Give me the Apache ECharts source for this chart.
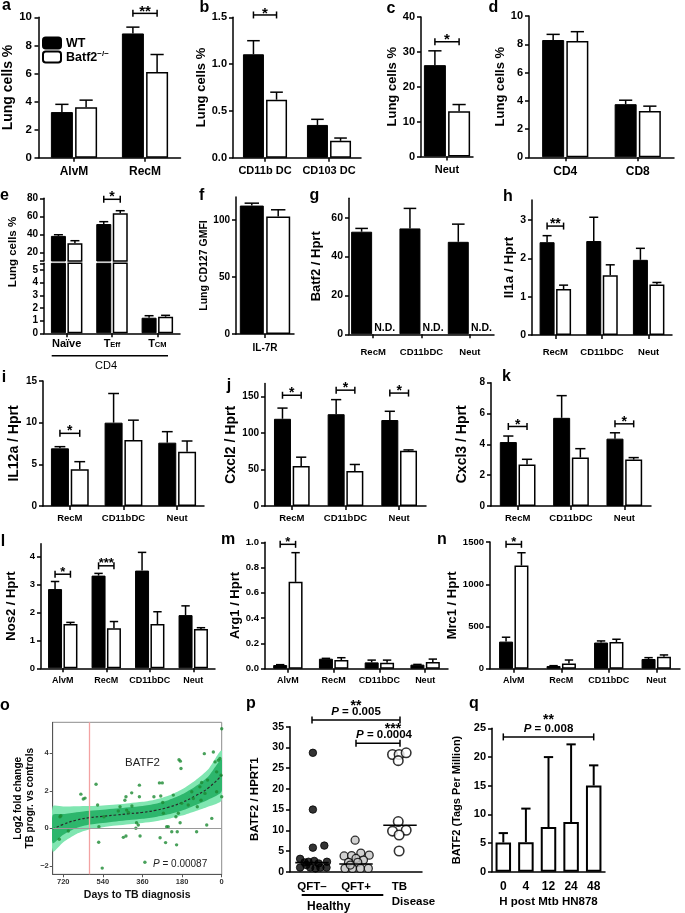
<!DOCTYPE html>
<html><head><meta charset="utf-8"><title>BATF2 figure</title>
<script src="https://cdn.jsdelivr.net/npm/echarts@6.0.0/dist/echarts.min.js"></script>
<style>html,body{margin:0;padding:0;background:#fff;}#chart{width:685px;height:913px;}</style>
</head><body><div id="chart"></div>
<script>
// ================= DATA =================
// a
const aCats=['AlvM','RecM'], aWT=[3.25,8.85], aWTsem=[0.55,0.45], aKO=[3.6,6.1], aKOsem=[0.5,1.25];
const aTicks=[0,2,4,6,8,10], aSigCat=[1], aSigY=[10.28], aSigTxt=['**'];
// b
const bCats=['CD11b DC','CD103 DC'], bWT=[1.105,0.35], bWTsem=[0.145,0.06], bKO=[0.62,0.18], bKOsem=[0.08,0.03];
const bTicks=[0,0.5,1,1.5], bSigCat=[0], bSigY=[1.525], bSigTxt=['*'];
// c
const cCats=['Neut'], cWT=[26.2], cWTsem=[4.1], cKO=[13], cKOsem=[1.9];
const cTicks=[0,10,20,30,40], cSigCat=[0], cSigY=[32.9], cSigTxt=['*'];
// d
const dCats=['CD4','CD8'], dWT=[8.3,3.76], dWTsem=[0.4,0.28], dKO=[8.23,3.28], dKOsem=[0.66,0.34];
const dTicks=[0,2,4,6,8,10];
// e
const eCats=['Naïve','TEff','TCM'], eCatRich=['{b|Naïve}','{b|T}{s|Eff}','{b|T}{s|CM}'];
const eWT=[38.5,51.6,1.23], eWTsem=[1.3,2.6,0.16], eKO=[30.4,63.4,1.31], eKOsem=[2.8,2.9,0.11];
const eTicksUp=[20,40,60,80], eTicksLo=[0,1,2,3,4,5], eSigCat=[1], eSigY=[78.9], eSigTxt=['*'];
const eBreakLo=10.8, eBreakHi=5.53;
// f
const fCats=['IL-7R'], fWT=[112.5], fWTsem=[2.1], fKO=[102.9], fKOsem=[5.9], fTicks=[0,50,100];
// g
const gCats=['RecM','CD11bDC','Neut'], gWT=[52.8,54.5,47.6], gWTsem=[1.7,10.3,9.1], gKO=[null,null,null];
const gKOLabel=['N.D.','N.D.','N.D.'], gTicks=[0,20,40,60];
// h
const hCats=['RecM','CD11bDC','Neut'], hWT=[2.42,2.45,1.96], hWTsem=[0.17,0.62,0.3], hKO=[1.2,1.56,1.32], hKOsem=[0.1,0.27,0.05];
const hTicks=[0,1,2,3], hSigCat=[0], hSigY=[2.84], hSigTxt=['**'];
// i
const iCats=['RecM','CD11bDC','Neut'], iWT=[6.92,10.0,7.6], iWTsem=[0.2,3.5,1.32], iKO=[4.4,7.92,6.52], iKOsem=[0.92,2.38,1.28];
const iTicks=[0,5,10,15], iSigCat=[0], iSigY=[8.72], iSigTxt=['*'];
// j
const jCats=['RecM','CD11bDC','Neut'], jWT=[119.7,126,118], jWTsem=[14.7,20,12], jKO=[55,48,75.7], jKOsem=[12,9,1.3];
const jTicks=[0,50,100,150], jSigCat=[0,1,2], jSigY=[152,159,155], jSigTxt=['*','*','*'];
// k
const kCats=['RecM','CD11bDC','Neut'], kWT=[4.15,5.72,4.37], kWTsem=[0.39,1.44,0.38], kKO=[2.69,3.14,3.01], kKOsem=[0.34,0.58,0.13];
const kTicks=[0,2,4,6,8], kSigCat=[0,2], kSigY=[5.16,5.33], kSigTxt=['*','*'];
// l
const lCats=['AlvM','RecM','CD11bDC','Neut'], lWT=[2.83,3.31,3.49,1.9], lWTsem=[0.27,0.08,0.65,0.33], lKO=[1.58,1.43,1.58,1.4], lKOsem=[0.06,0.24,0.44,0.05];
const lTicks=[0,1,2,3,4], lSigCat=[0,1], lSigY=[3.36,3.66], lSigTxt=['*','***'];
// m
const mCats=['AlvM','RecM','CD11bDC','Neut'], mWT=[0.029,0.079,0.05,0.032], mWTsem=[0.003,0.003,0.018,0.002], mKO=[0.687,0.068,0.047,0.053], mKOsem=[0.231,0.019,0.021,0.023];
const mTicks=[0,0.2,0.4,0.6,0.8,1.0], mSigCat=[0], mSigY=[0.984], mSigTxt=['*'];
// n
const nCats=['AlvM','RecM','CD11bDC','Neut'], nWT=[321,32,310,115], nWTsem=[52,4,19,16], nKO=[1222,63,317,143], nKOsem=[152,40,32,20];
const nTicks=[0,500,1000,1500], nSigCat=[0], nSigY=[1474], nSigTxt=['*'];
// o
const oXTicks=[0,180,360,540,720], oYTicks=[-2,0,2,4], oRedLineDay=602;
const oBandDays=[768,720,660,600,540,480,420,360,300,240,180,120,60,0];
const oMean   =[-0.04,0.21,0.44,0.57,0.64,0.71,0.78,0.85,0.96,1.13,1.38,1.73,2.16,2.83];
const oInnerLo=[-0.79,-0.34,0.02,0.20,0.29,0.37,0.44,0.51,0.61,0.75,0.95,1.23,1.54,1.98];
const oInnerHi=[0.71,0.76,0.86,0.94,0.99,1.05,1.12,1.19,1.31,1.51,1.81,2.23,2.78,3.68];
const oOuterLo=[-1.24,-0.74,-0.30,-0.05,0.06,0.15,0.22,0.29,0.38,0.51,0.68,0.91,1.16,1.51];
const oOuterHi=[1.16,1.16,1.18,1.19,1.22,1.27,1.34,1.41,1.54,1.75,2.08,2.55,3.16,4.15];
const oPtDay=[735,731,738,697,640,629,621,571,564,559,558,543,535,470,462,447,435,440,435,432,424,409,408,390,387,379,374,374,371,349,308,283,277,268,280,270,265,255,250,243,227,220,208,205,202,197,194,188,185,182,189,152,136,129,114,111,99,94,91,79,76,68,64,45,38,30,23,15,8,3,0,0,23];
const oPtVal=[0.62,0.67,-0.58,-0.14,1.82,1.56,1.61,2.35,1.24,-0.74,0.09,-2.12,0.62,0.92,1.15,-0.48,-0.41,1.5,1.68,0.97,0.85,1.89,1.19,0,0.3,0.18,2.3,1.68,-0.41,-1.81,1.68,2.42,1.72,1.38,-0.5,2.42,0.8,-0.76,0.09,0.09,-0.18,1.77,0.62,-0.88,-0.18,0.8,3.66,3.58,3.19,1.33,0.3,1.24,1.95,1.59,-0.18,1.15,2.21,1.5,2.44,3.98,1.86,0.18,2.57,0.53,4.07,3.54,1.95,3.63,3.72,2.83,5.31,1.68,3.01];
// p
const pCats=['QFT–','QFT+','TB\nDisease'], pTicks=[0,5,10,15,20,25,30,35];
const pNegOff=[0.02,0.02,0.02,0.28,-0.27,-0.27,-0.13,-0.04,0.08,0.19,0.33,-0.08,0.05,0.15,0.34,-0.17];
const pNegVal=[28.7,15.0,5.8,6.3,3.1,1.0,1.6,1.0,0.8,1.0,1.0,2.4,2.6,2.0,2.4,2.25];
const pPosOff=[-0.02,-0.27,-0.10,0.11,0.30,0,0.17,-0.17,0.04,-0.25,-0.08,0.10,0.28,-0.13];
const pPosVal=[7.6,3.8,3.9,4.5,4.0,3.2,2.8,2.25,2.25,0.8,0.8,0.8,0.8,1.6];
const pTBOff=[-0.17,-0.02,0.14,-0.04,-0.04,-0.17,0.14,-0.02,-0.02];
const pTBVal=[28.3,28.3,28.7,26.8,12.1,9.8,10.0,8.85,5.0];
const pMedian=[2.2,1.85,11.2];
const pSigFrom=[0,1], pSigTo=[2,2], pSigY=[36.6,31.0], pSigP=['0.005','0.0004'], pSigTxt=['**','***'];
// q
const qCats=['0','4','12','24','48'], qMean=[5.09,5.15,7.78,8.65,15.03], qSem=[1.64,5.85,12.2,13.55,3.51];
const qTicks=[0,5,10,15,20,25], qSigFrom=[0], qSigTo=[4], qSigY=[23.5], qSigP=['0.008'], qSigTxt=['**'];

// ================= BUILDERS =================
const FONT="'Liberation Sans', Arial, Helvetica, sans-serif";
const grids=[], xAxes=[], yAxes=[], series=[], graphics=[];

function addGrid(r){ grids.push(Object.assign({containLabel:false}, r)); return grids.length-1; }
function addCatX(gi, cats, o){
  o=o||{};
  xAxes.push({type:'category', gridIndex:gi, data:cats, show:o.show!==false, position:'bottom',
    axisLine:{show:true,onZero:false,lineStyle:{color:'#000',width:1.5}},
    axisTick:{show:o.tick!==false,alignWithLabel:true,length:4,lineStyle:{color:'#000',width:1.5}},
    axisLabel:{show:true,interval:0,margin:o.margin!=null?o.margin:7,fontSize:o.fs||11,fontFamily:FONT,fontWeight:'bold',color:'#000',formatter:o.fmt,rich:o.rich,lineHeight:o.lh},
    splitLine:{show:false},
    name:o.name, nameLocation:'middle', nameGap:o.gap,
    nameTextStyle:{fontFamily:FONT,fontWeight:'bold',fontSize:o.nfs||11,color:'#000'}});
  return xAxes.length-1;
}
function addValY(gi, min, max, ticks, o){
  o=o||{};
  const lc=o.lc||'#000', lw=o.lw||1.5;
  yAxes.push({type:'value', gridIndex:gi, min:min, max:max,
    axisLine:{show:true,onZero:false,lineStyle:{color:lc,width:lw}},
    axisTick:{show:true,length:o.tl||4,customValues:o.tickVals||ticks,lineStyle:{color:lc,width:lw}},
    axisLabel:{customValues:ticks,formatter:o.fmt||(v=>String(v)),margin:o.margin!=null?o.margin:6,fontSize:o.fs||10,fontFamily:FONT,fontWeight:'bold',color:o.tc||'#000'},
    splitLine:{show:false},
    name:o.name, nameLocation:'middle', nameGap:o.gap,
    nameTextStyle:{fontFamily:FONT,fontWeight:'bold',fontSize:o.nfs||13,color:'#000',lineHeight:o.nlh}});
  return yAxes.length-1;
}
const ST={stroke:'#000',lineWidth:1.5};
function errSeries(xi, yi, means, sems, off, bw, keep, lw){
  const data=[];
  means.forEach((m,i)=>{ if(m!=null && sems[i]!=null && (!keep || keep(m))) data.push([i, m, m+sems[i]]); });
  const st={stroke:'#000',lineWidth:lw||1.5};
  return {type:'custom', xAxisIndex:xi, yAxisIndex:yi, clip:false, silent:true, z:3,
    encode:{x:0,y:[1,2]}, data:data,
    renderItem:function(params, api){
      const c=api.value(0);
      const p0=api.coord([c, api.value(1)]), p1=api.coord([c, api.value(2)]);
      const x=p0[0]+off, cap=Math.max(3, bw*0.3);
      return {type:'group', children:[
        {type:'line', shape:{x1:x,y1:p0[1],x2:x,y2:p1[1]}, style:st},
        {type:'line', shape:{x1:x-cap,y1:p1[1],x2:x+cap,y2:p1[1]}, style:st}]};
    }};
}
function bracketSeries(xi, yi, brs, half, fs){
  return {type:'custom', xAxisIndex:xi, yAxisIndex:yi, clip:false, silent:true, z:5,
    encode:{x:0,y:1}, data:brs.map(b=>[b.c, b.y]),
    renderItem:function(params, api){
      const b=brs[params.dataIndex];
      const p=api.coord([api.value(0), api.value(1)]);
      const x1=p[0]-half, x2=p[0]+half, y=p[1], h=3.5;
      return {type:'group', children:[
        {type:'line', shape:{x1:x1,y1:y,x2:x2,y2:y}, style:ST},
        {type:'line', shape:{x1:x1,y1:y-h,x2:x1,y2:y+h}, style:ST},
        {type:'line', shape:{x1:x2,y1:y-h,x2:x2,y2:y+h}, style:ST},
        {type:'text', style:{text:b.t, x:p[0], y:y-5+0.235*fs, align:'center', textAlign:'center', verticalAlign:'middle', textVerticalAlign:'middle', fontSize:fs, fontWeight:'bold', fontFamily:FONT, fill:'#000'}}]};
    }};
}
function sig(cats, ys, ts){ return cats.map((c,i)=>({c:c, y:ys[i], t:ts[i]})); }
function barPanel(P){
  const gi=addGrid(P.grid);
  const xi=addCatX(gi, P.cats, P.x);
  const yi=addValY(gi, P.min, P.max, P.ticks, P.y);
  const bw=P.bw, gap=P.gap!=null?P.gap:10, half=bw*(1+gap/100)/2;
  series.push({type:'bar', name:'WT', xAxisIndex:xi, yAxisIndex:yi, data:P.wt, barWidth:bw, barGap:gap+'%', silent:true, itemStyle:{color:'#000',borderColor:'#000',borderWidth:1}});
  series.push({type:'bar', name:'Batf2', xAxisIndex:xi, yAxisIndex:yi, data:P.ko, barWidth:bw, barGap:gap+'%', silent:true, itemStyle:{color:'#fff',borderColor:'#000',borderWidth:1.5}});
  series.push(errSeries(xi, yi, P.wt, P.wtSem, -half, bw));
  if(P.koSem) series.push(errSeries(xi, yi, P.ko, P.koSem, half, bw));
  if(P.br) series.push(bracketSeries(xi, yi, P.br, half, P.sfs||14));
  return {gi:gi, xi:xi, yi:yi, half:half};
}
function spanBracket(xi, yi, from, to, ys, ptxt, stars, o){
  return {type:'custom', xAxisIndex:xi, yAxisIndex:yi, clip:false, silent:true, z:6,
    encode:{x:0,y:2}, data:ys.map((y,i)=>[from[i], to[i], y]),
    renderItem:function(params, api){
      const i=params.dataIndex;
      const a=api.coord([api.value(0), api.value(2)]), b=api.coord([api.value(1), api.value(2)]);
      const y=a[1], h=3.5, cx=(a[0]+b[0])/2;
      return {type:'group', children:[
        {type:'line', shape:{x1:a[0],y1:y,x2:b[0],y2:y}, style:ST},
        {type:'line', shape:{x1:a[0],y1:y-h,x2:a[0],y2:y+h}, style:ST},
        {type:'line', shape:{x1:b[0],y1:y-h,x2:b[0],y2:y+h}, style:ST},
        {type:'text', style:{text:'{i|P} = '+ptxt[i], x:cx+(o.pdx?o.pdx[i]:0), y:y-2, align:'center', textAlign:'center', verticalAlign:'bottom', textVerticalAlign:'bottom', fontSize:o.fs, fontWeight:'bold', fontFamily:FONT, fill:'#000', rich:{i:{fontStyle:'italic',fontWeight:'bold',fontSize:o.fs,fontFamily:FONT,fill:'#000'}}}},
        {type:'text', style:{text:stars[i], x:cx+(o.sdx?o.sdx[i]:0), y:y-o.sy+0.235*o.sfs, align:'center', textAlign:'center', verticalAlign:'middle', textVerticalAlign:'middle', fontSize:o.sfs, fontWeight:'bold', fontFamily:FONT, fill:'#000'}}]};
    }};
}
function gtext(t, x, y, o){
  o=o||{};
  graphics.push({type:'text', x:x, y:y, rotation:o.rot||0, silent:true, z:100,
    style:{text:t, x:0, y:0, fill:o.color||'#000', fontSize:o.fs||12, fontWeight:o.fw||'bold', fontStyle:o.fst||'normal', fontFamily:o.ff||FONT,
      align:o.align||'center', textAlign:o.align||'center', verticalAlign:o.va||'middle', textVerticalAlign:o.va||'middle', rich:o.rich}});
}
function gline(x1,y1,x2,y2,w){ graphics.push({type:'line', silent:true, z:100, shape:{x1:x1,y1:y1,x2:x2,y2:y2}, style:{stroke:'#000',lineWidth:w||1.5}}); }
const f1=v=>v.toFixed(1);

// ================= ROW 1 =================
barPanel({grid:{left:38.5,top:17.3,width:142,height:140.4}, cats:aCats, wt:aWT, wtSem:aWTsem, ko:aKO, koSem:aKOsem, min:0, max:10, ticks:aTicks, bw:22, sfs:15,
  x:{fs:12, margin:8}, y:{fs:11.5, margin:6.5, name:'Lung cells %', gap:20, nfs:14}, br:sig(aSigCat,aSigY,aSigTxt)});
barPanel({grid:{left:233,top:17.3,width:128,height:140.4}, cats:bCats, wt:bWT, wtSem:bWTsem, ko:bKO, koSem:bKOsem, min:0, max:1.5, ticks:bTicks, bw:21, sfs:15,
  x:{fs:11, margin:8}, y:{fs:11, margin:6, fmt:f1, name:'Lung cells %', gap:21, nfs:13}, br:sig(bSigCat,bSigY,bSigTxt)});
barPanel({grid:{left:421,top:17,width:52,height:139.5}, cats:cCats, wt:cWT, wtSem:cWTsem, ko:cKO, koSem:cKOsem, min:0, max:40, ticks:cTicks, bw:22, sfs:15,
  x:{fs:11, margin:8}, y:{fs:11, margin:6, name:'Lung cells %', gap:22, nfs:13}, br:sig(cSigCat,cSigY,cSigTxt)});
barPanel({grid:{left:529,top:16,width:145,height:141.3}, cats:dCats, wt:dWT, wtSem:dWTsem, ko:dKO, koSem:dKOsem, min:0, max:10, ticks:dTicks, bw:22,
  x:{fs:12, margin:8}, y:{fs:11, margin:6, name:'Lung cells %', gap:20.5, nfs:13}});

// ================= ROW 2 =================
// e: broken axis -> two grids
(function(){
  const gU=addGrid({left:44,top:198.3,width:136,height:62.7});
  const gL=addGrid({left:44,top:263.3,width:136,height:70});
  const xU=addCatX(gU, eCats, {show:false});
  const xL=addCatX(gL, eCats, {fs:11, margin:5, fmt:(v,i)=>eCatRich[i],
    rich:{b:{fontSize:11,fontWeight:'bold',fontFamily:FONT,lineHeight:11,verticalAlign:'top'}, s:{fontSize:7.5,fontWeight:'bold',fontFamily:FONT,lineHeight:8,verticalAlign:'bottom',padding:[5,0,0,0]}}});
  const yU=addValY(gU, eBreakLo, 80, eTicksUp, {fs:10, margin:6, tickVals:[eBreakLo].concat(eTicksUp)});
  const yL=addValY(gL, 0, eBreakHi, eTicksLo, {fs:10, margin:6, tickVals:eTicksLo.concat([eBreakHi])});
  const bw=15, half=bw*1.1/2;
  [[xU,yU,m=>m>eBreakLo],[xL,yL,m=>m<eBreakHi]].forEach(function(ax){
    series.push({type:'bar', name:'WT', xAxisIndex:ax[0], yAxisIndex:ax[1], data:eWT, barWidth:bw, barGap:'10%', clip:true, silent:true, itemStyle:{color:'#000',borderColor:'#000',borderWidth:1}});
    series.push({type:'bar', name:'Batf2', xAxisIndex:ax[0], yAxisIndex:ax[1], data:eKO, barWidth:bw, barGap:'10%', clip:true, silent:true, itemStyle:{color:'#fff',borderColor:'#000',borderWidth:1.5}});
    series.push(errSeries(ax[0], ax[1], eWT, eWTsem, -half, bw, ax[2]));
    series.push(errSeries(ax[0], ax[1], eKO, eKOsem, half, bw, ax[2]));
  });
  series.push(bracketSeries(xU, yU, sig(eSigCat,eSigY,eSigTxt), half, 14));
})();
gtext('Lung cells %', 12.5, 252, {rot:Math.PI/2, fs:11.5});
gline(51.7,355.7,168,355.7,1.5);
gtext('CD4', 106, 366, {fs:11, fw:'normal'});

barPanel({grid:{left:236,top:197,width:58,height:137}, cats:fCats, wt:fWT, wtSem:fWTsem, ko:fKO, koSem:fKOsem, min:0, max:120, ticks:fTicks, bw:24,
  x:{fs:10, margin:9}, y:{fs:10, margin:6, name:'Lung CD127 GMFI', gap:11, nfs:10.5}});
(function(){
  const g=barPanel({grid:{left:349,top:198.3,width:145,height:136}, cats:gCats, wt:gWT, wtSem:gWTsem, ko:gKO, min:0, max:70, ticks:gTicks, bw:21,
    x:{fs:9.5, margin:13}, y:{fs:10.5, margin:6, name:'Batf2 / Hprt', gap:26.5, nfs:13}});
  series.push({type:'custom', xAxisIndex:g.xi, yAxisIndex:g.yi, clip:false, silent:true, z:5, encode:{x:0,y:1},
    data:gCats.map((c,i)=>[i,0]),
    renderItem:function(params, api){
      const p=api.coord([api.value(0), 0]);
      return {type:'text', style:{text:gKOLabel[params.dataIndex], x:p[0]+g.half, y:p[1]-1, align:'center', textAlign:'center', verticalAlign:'bottom', textVerticalAlign:'bottom', fontSize:10.5, fontWeight:'bold', fontFamily:FONT, fill:'#000'}};
    }});
})();
barPanel({grid:{left:532,top:200,width:140,height:135}, cats:hCats, wt:hWT, wtSem:hWTsem, ko:hKO, koSem:hKOsem, min:0, max:3.52, ticks:hTicks, bw:15, sfs:14,
  x:{fs:9.5, margin:12}, y:{fs:10.5, margin:6, name:'Il1a / Hprt', gap:10, nfs:13.5}, br:sig(hSigCat,hSigY,hSigTxt)});

// ================= ROW 3 =================
barPanel({grid:{left:43,top:381,width:161,height:125}, cats:iCats, wt:iWT, wtSem:iWTsem, ko:iKO, koSem:iKOsem, min:0, max:15, ticks:iTicks, bw:18, sfs:14,
  x:{fs:9.5, margin:7.5}, y:{fs:10, margin:6, name:'IL12a / Hprt', gap:21.5, nfs:14}, br:sig(iSigCat,iSigY,iSigTxt)});
barPanel({grid:{left:265,top:383.6,width:161,height:122.4}, cats:jCats, wt:jWT, wtSem:jWTsem, ko:jKO, koSem:jKOsem, min:0, max:168, ticks:jTicks, bw:17, sfs:14,
  x:{fs:9.5, margin:7.5}, y:{fs:10, margin:6, name:'Cxcl2 / Hprt', gap:27, nfs:14}, br:sig(jSigCat,jSigY,jSigTxt)});
barPanel({grid:{left:491,top:382.7,width:160,height:123.3}, cats:kCats, wt:kWT, wtSem:kWTsem, ko:kKO, koSem:kKOsem, min:0, max:8, ticks:kTicks, bw:17, sfs:14,
  x:{fs:9.5, margin:7.5}, y:{fs:10, margin:6, name:'Cxcl3 / Hprt', gap:21.5, nfs:14}, br:sig(kSigCat,kSigY,kSigTxt)});

// ================= ROW 4 =================
barPanel({grid:{left:41,top:543.7,width:174,height:124.6}, cats:lCats, wt:lWT, wtSem:lWTsem, ko:lKO, koSem:lKOsem, min:0, max:4.45, ticks:lTicks, bw:14, sfs:13,
  x:{fs:9, margin:7.5}, y:{fs:9.5, margin:6, name:'Nos2 / Hprt', gap:23, nfs:13}, br:sig(lSigCat,lSigY,lSigTxt)});
barPanel({grid:{left:265,top:542.3,width:183,height:126.4}, cats:mCats, wt:mWT, wtSem:mWTsem, ko:mKO, koSem:mKOsem, min:0, max:1.0, ticks:mTicks, bw:14, sfs:13,
  x:{fs:9, margin:7.5}, y:{fs:9.5, margin:6, fmt:f1, name:'Arg1 / Hprt', gap:22, nfs:13}, br:sig(mSigCat,mSigY,mSigTxt)});
barPanel({grid:{left:490,top:542.1,width:190,height:126.6}, cats:nCats, wt:nWT, wtSem:nWTsem, ko:nKO, koSem:nKOsem, min:0, max:1500, ticks:nTicks, bw:14, sfs:13,
  x:{fs:9, margin:7.5}, y:{fs:9.5, margin:6, name:'Mrc1 / Hprt', gap:22.5, nfs:13}, br:sig(nSigCat,nSigY,nSigTxt)});

// ================= ROW 5 =================
// o
(function(){
  const gi=addGrid({left:52.7,top:722.3,width:169,height:152,show:true,borderColor:'#8c8c8c',borderWidth:1});
  xAxes.push({type:'value', gridIndex:gi, min:0, max:768, inverse:true,
    axisLine:{show:true,onZero:false,lineStyle:{color:'#555',width:1}},
    axisTick:{show:true,length:3,customValues:oXTicks,lineStyle:{color:'#555',width:1}},
    axisLabel:{customValues:oXTicks,margin:4,fontSize:7.5,fontFamily:FONT,fontWeight:'bold',color:'#333',formatter:v=>String(v)},
    splitLine:{show:false}, name:'Days to TB diagnosis', nameLocation:'middle', nameGap:15.5,
    nameTextStyle:{fontFamily:FONT,fontWeight:'bold',fontSize:10.5,color:'#111'}});
  const xi=xAxes.length-1;
  const yi=addValY(gi, -2.45, 5.65, oYTicks, {fs:7.5, margin:4, tl:3, lc:'#555', lw:1, tc:'#333',
    fmt:v=>v<0?'−'+Math.abs(v):String(v), name:'Log2 fold change\nTB progr. vs controls', gap:14, nfs:10, nlh:12});
  series.push({type:'custom', xAxisIndex:xi, yAxisIndex:yi, clip:true, silent:true, z:1,
    encode:{x:0,y:[1,2]}, data:oBandDays.map((d,i)=>[d, oOuterLo[i], oOuterHi[i]]),
    renderItem:function(params, api){
      if(params.dataIndex!==0) return null;
      const poly=(lo,hi)=>oBandDays.map((d,i)=>api.coord([d,hi[i]])).concat(oBandDays.map((d,i)=>api.coord([d,lo[i]])).reverse());
      return {type:'group', children:[
        {type:'polygon', shape:{points:poly(oOuterLo,oOuterHi), smooth:0.25}, style:{fill:'#80e6b1'}},
        {type:'polygon', shape:{points:poly(oInnerLo,oInnerHi), smooth:0.25}, style:{fill:'#2db66c'}}]};
    }});
  series.push({type:'line', xAxisIndex:xi, yAxisIndex:yi, data:[], silent:true, z:2,
    markLine:{silent:true, symbol:['none','none'], label:{show:false}, animation:false,
      data:[{xAxis:oRedLineDay, lineStyle:{color:'#f3a2a2',width:1.3,type:'solid'}}, {yAxis:0, lineStyle:{color:'#9a9a9a',width:1,type:'solid'}}]}});
  series.push({type:'line', xAxisIndex:xi, yAxisIndex:yi, data:oBandDays.map((d,i)=>[d,oMean[i]]), smooth:true, showSymbol:false, silent:true, z:3,
    lineStyle:{color:'#2a2a2a',width:1.2,type:[2.5,2]}});
  series.push({type:'scatter', xAxisIndex:xi, yAxisIndex:yi, data:oPtDay.map((d,i)=>[d,oPtVal[i]]), symbolSize:3.4, silent:true, z:4,
    itemStyle:{color:'#1c8a32'}});
})();
gtext('BATF2', 142.5, 763, {fs:11.5, fw:'normal', color:'#222'});
gtext('{i|P} = 0.00087', 153, 864, {fs:10, fw:'normal', color:'#222', align:'left', rich:{i:{fontStyle:'italic',fontSize:10,fontFamily:FONT,fill:'#222'}}});

// p
(function(){
  const gi=addGrid({left:290,top:726.7,width:132,height:145});
  const xc=addCatX(gi, pCats, {fs:11.5, margin:8, tick:false, lh:14.5,
    fmt:(v,i)=>i===2 ? v.split('\n').map(s=>'{l|'+s+'}').join('\n') : v,
    rich:{l:{align:'left', padding:[0,0,0,27], fontSize:11.5, fontWeight:'bold', fontFamily:FONT, lineHeight:14.5}}});
  xAxes.push({type:'value', gridIndex:gi, min:-0.5, max:2.5, show:false});
  const xv=xAxes.length-1;
  const yi=addValY(gi, 0, 35, pTicks, {fs:10.5, margin:6, name:'BATF2 / HPRT1', gap:29, nfs:11.5});
  series.push({type:'scatter', xAxisIndex:xv, yAxisIndex:yi, data:pNegOff.map((o,i)=>[0+o,pNegVal[i]]), symbolSize:7.5, silent:true, z:4, itemStyle:{color:'#000',borderColor:'#000',borderWidth:1}});
  series.push({type:'scatter', xAxisIndex:xv, yAxisIndex:yi, data:pPosOff.map((o,i)=>[1+o,pPosVal[i]]), symbolSize:8, silent:true, z:4, itemStyle:{color:'#c4c4c4',borderColor:'#000',borderWidth:1.3}});
  series.push({type:'scatter', xAxisIndex:xv, yAxisIndex:yi, data:pTBOff.map((o,i)=>[2+o,pTBVal[i]]), symbolSize:9.5, silent:true, z:4, itemStyle:{color:'#fff',borderColor:'#000',borderWidth:1.6}});
  series.push({type:'custom', xAxisIndex:xv, yAxisIndex:yi, clip:false, silent:true, z:5, encode:{x:0,y:1},
    data:pMedian.map((m,i)=>[i,m]),
    renderItem:function(params, api){
      const a=api.coord([api.value(0)-0.38, api.value(1)]), b=api.coord([api.value(0)+0.38, api.value(1)]);
      return {type:'line', shape:{x1:a[0],y1:a[1],x2:b[0],y2:b[1]}, style:{stroke:'#000',lineWidth:1.6}};
    }});
  series.push(spanBracket(xv, yi, pSigFrom, pSigTo, pSigY, pSigP, pSigTxt, {fs:11.5, sfs:14, sy:17, pdx:[0,6], sdx:[0,15]}));
})();
gline(301.7,895,383.3,895,2);
gtext('Healthy', 307, 906.5, {fs:12, align:'left'});

// q
(function(){
  const gi=addGrid({left:492,top:728.3,width:113,height:143.4});
  const xi=addCatX(gi, qCats, {fs:12, margin:9, tick:false, name:'H post Mtb HN878', gap:24, nfs:11.5});
  const yi=addValY(gi, 0, 25, qTicks, {fs:11, margin:6, name:'BATF2 (Tags Per Million)', gap:30, nfs:11});
  series.push({type:'bar', name:'q', xAxisIndex:xi, yAxisIndex:yi, data:qMean, barWidth:15.5, silent:true, itemStyle:{color:'#fff',borderColor:'#000',borderWidth:2}});
  series.push(errSeries(xi, yi, qMean, qSem, 0, 15.5, null, 2));
  series.push(spanBracket(xi, yi, qSigFrom, qSigTo, qSigY, qSigP, qSigTxt, {fs:11.5, sfs:14, sy:20}));
})();

// panel letters
[['a',6.5,6],['b',204.5,7.5],['c',391,8.6],['d',493.5,7.5],['e',4.5,195.3],['f',201.7,196],['g',314.5,195.5],['h',508,196.3],
 ['i',4,378],['j',229,386],['k',506.5,376.7],['l',3,542],['m',228,539.6],['n',442,539.3],['o',5,705.6],['p',251,704],['q',474,704]]
 .forEach(L=>gtext(L[0], L[1], L[2], {fs:16}));

const option={
  animation:false,
  backgroundColor:'#fff',
  textStyle:{fontFamily:FONT},
  legend:{data:['WT','Batf2'], orient:'vertical', left:42, top:36.5, itemWidth:18, itemHeight:11, itemGap:0, padding:0, selectedMode:false,
    formatter:n=>n==='WT'?'{b|WT}':'{b|Batf2}{s|−/−}',
    textStyle:{fontFamily:FONT,fontWeight:'bold',fontSize:12.5,color:'#000',
      rich:{b:{fontFamily:FONT,fontWeight:'bold',fontSize:12.5,lineHeight:14,verticalAlign:'bottom'}, s:{fontFamily:FONT,fontWeight:'bold',fontSize:8,lineHeight:8,verticalAlign:'top'}}}},
  grid:grids, xAxis:xAxes, yAxis:yAxes, series:series, graphic:graphics
};
const chart=echarts.init(document.getElementById('chart'), null, {renderer:'canvas'});
chart.setOption(option);
</script></body></html>
